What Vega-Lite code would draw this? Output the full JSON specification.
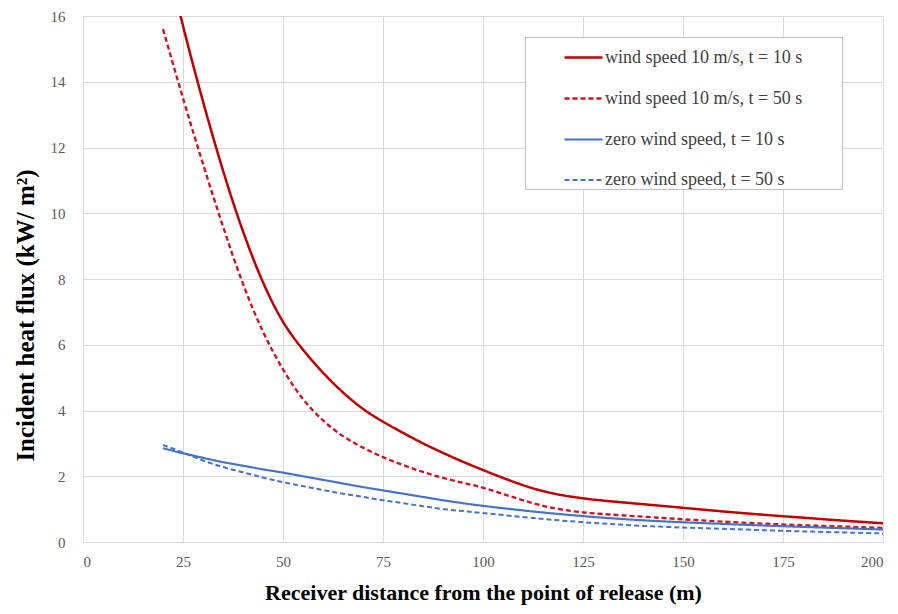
{
  "$schema": "https://vega.github.io/schema/vega-lite/v6.json",
  "width": 800,
  "height": 526,
  "autosize": {"type": "none"},
  "padding": {"left": 83, "top": 16, "right": 15, "bottom": 72},
  "background": "white",
  "data": {"values": [
    {"x": 20, "y": 18.2, "series": "wind speed 10 m/s, t = 10 s"},
    {"x": 25, "y": 15.7, "series": "wind speed 10 m/s, t = 10 s"},
    {"x": 30, "y": 13.4, "series": "wind speed 10 m/s, t = 10 s"},
    {"x": 35, "y": 11.3, "series": "wind speed 10 m/s, t = 10 s"},
    {"x": 40, "y": 9.45, "series": "wind speed 10 m/s, t = 10 s"},
    {"x": 45, "y": 7.9, "series": "wind speed 10 m/s, t = 10 s"},
    {"x": 50, "y": 6.7, "series": "wind speed 10 m/s, t = 10 s"},
    {"x": 55, "y": 5.85, "series": "wind speed 10 m/s, t = 10 s"},
    {"x": 60, "y": 5.15, "series": "wind speed 10 m/s, t = 10 s"},
    {"x": 65, "y": 4.55, "series": "wind speed 10 m/s, t = 10 s"},
    {"x": 70, "y": 4.05, "series": "wind speed 10 m/s, t = 10 s"},
    {"x": 75, "y": 3.66, "series": "wind speed 10 m/s, t = 10 s"},
    {"x": 80, "y": 3.32, "series": "wind speed 10 m/s, t = 10 s"},
    {"x": 85, "y": 3.0, "series": "wind speed 10 m/s, t = 10 s"},
    {"x": 90, "y": 2.71, "series": "wind speed 10 m/s, t = 10 s"},
    {"x": 95, "y": 2.44, "series": "wind speed 10 m/s, t = 10 s"},
    {"x": 100, "y": 2.19, "series": "wind speed 10 m/s, t = 10 s"},
    {"x": 105, "y": 1.95, "series": "wind speed 10 m/s, t = 10 s"},
    {"x": 110, "y": 1.73, "series": "wind speed 10 m/s, t = 10 s"},
    {"x": 115, "y": 1.55, "series": "wind speed 10 m/s, t = 10 s"},
    {"x": 120, "y": 1.42, "series": "wind speed 10 m/s, t = 10 s"},
    {"x": 125, "y": 1.33, "series": "wind speed 10 m/s, t = 10 s"},
    {"x": 130, "y": 1.26, "series": "wind speed 10 m/s, t = 10 s"},
    {"x": 140, "y": 1.15, "series": "wind speed 10 m/s, t = 10 s"},
    {"x": 150, "y": 1.04, "series": "wind speed 10 m/s, t = 10 s"},
    {"x": 160, "y": 0.93, "series": "wind speed 10 m/s, t = 10 s"},
    {"x": 170, "y": 0.83, "series": "wind speed 10 m/s, t = 10 s"},
    {"x": 180, "y": 0.74, "series": "wind speed 10 m/s, t = 10 s"},
    {"x": 190, "y": 0.65, "series": "wind speed 10 m/s, t = 10 s"},
    {"x": 200, "y": 0.57, "series": "wind speed 10 m/s, t = 10 s"},

    {"x": 20, "y": 15.6, "series": "wind speed 10 m/s, t = 50 s"},
    {"x": 25, "y": 13.5, "series": "wind speed 10 m/s, t = 50 s"},
    {"x": 30, "y": 11.5, "series": "wind speed 10 m/s, t = 50 s"},
    {"x": 35, "y": 9.6, "series": "wind speed 10 m/s, t = 50 s"},
    {"x": 40, "y": 7.85, "series": "wind speed 10 m/s, t = 50 s"},
    {"x": 45, "y": 6.4, "series": "wind speed 10 m/s, t = 50 s"},
    {"x": 50, "y": 5.25, "series": "wind speed 10 m/s, t = 50 s"},
    {"x": 55, "y": 4.35, "series": "wind speed 10 m/s, t = 50 s"},
    {"x": 60, "y": 3.7, "series": "wind speed 10 m/s, t = 50 s"},
    {"x": 65, "y": 3.22, "series": "wind speed 10 m/s, t = 50 s"},
    {"x": 70, "y": 2.87, "series": "wind speed 10 m/s, t = 50 s"},
    {"x": 75, "y": 2.58, "series": "wind speed 10 m/s, t = 50 s"},
    {"x": 80, "y": 2.34, "series": "wind speed 10 m/s, t = 50 s"},
    {"x": 85, "y": 2.13, "series": "wind speed 10 m/s, t = 50 s"},
    {"x": 90, "y": 1.95, "series": "wind speed 10 m/s, t = 50 s"},
    {"x": 95, "y": 1.8, "series": "wind speed 10 m/s, t = 50 s"},
    {"x": 100, "y": 1.65, "series": "wind speed 10 m/s, t = 50 s"},
    {"x": 105, "y": 1.46, "series": "wind speed 10 m/s, t = 50 s"},
    {"x": 110, "y": 1.27, "series": "wind speed 10 m/s, t = 50 s"},
    {"x": 115, "y": 1.1, "series": "wind speed 10 m/s, t = 50 s"},
    {"x": 120, "y": 0.98, "series": "wind speed 10 m/s, t = 50 s"},
    {"x": 125, "y": 0.9, "series": "wind speed 10 m/s, t = 50 s"},
    {"x": 130, "y": 0.85, "series": "wind speed 10 m/s, t = 50 s"},
    {"x": 140, "y": 0.77, "series": "wind speed 10 m/s, t = 50 s"},
    {"x": 150, "y": 0.69, "series": "wind speed 10 m/s, t = 50 s"},
    {"x": 160, "y": 0.62, "series": "wind speed 10 m/s, t = 50 s"},
    {"x": 170, "y": 0.56, "series": "wind speed 10 m/s, t = 50 s"},
    {"x": 180, "y": 0.51, "series": "wind speed 10 m/s, t = 50 s"},
    {"x": 190, "y": 0.47, "series": "wind speed 10 m/s, t = 50 s"},
    {"x": 200, "y": 0.43, "series": "wind speed 10 m/s, t = 50 s"},

    {"x": 20, "y": 2.85, "series": "zero wind speed, t = 10 s"},
    {"x": 25, "y": 2.7, "series": "zero wind speed, t = 10 s"},
    {"x": 30, "y": 2.56, "series": "zero wind speed, t = 10 s"},
    {"x": 35, "y": 2.43, "series": "zero wind speed, t = 10 s"},
    {"x": 40, "y": 2.32, "series": "zero wind speed, t = 10 s"},
    {"x": 45, "y": 2.21, "series": "zero wind speed, t = 10 s"},
    {"x": 50, "y": 2.11, "series": "zero wind speed, t = 10 s"},
    {"x": 55, "y": 2.0, "series": "zero wind speed, t = 10 s"},
    {"x": 60, "y": 1.89, "series": "zero wind speed, t = 10 s"},
    {"x": 65, "y": 1.78, "series": "zero wind speed, t = 10 s"},
    {"x": 70, "y": 1.67, "series": "zero wind speed, t = 10 s"},
    {"x": 75, "y": 1.57, "series": "zero wind speed, t = 10 s"},
    {"x": 80, "y": 1.47, "series": "zero wind speed, t = 10 s"},
    {"x": 85, "y": 1.37, "series": "zero wind speed, t = 10 s"},
    {"x": 90, "y": 1.27, "series": "zero wind speed, t = 10 s"},
    {"x": 95, "y": 1.18, "series": "zero wind speed, t = 10 s"},
    {"x": 100, "y": 1.1, "series": "zero wind speed, t = 10 s"},
    {"x": 110, "y": 0.96, "series": "zero wind speed, t = 10 s"},
    {"x": 120, "y": 0.84, "series": "zero wind speed, t = 10 s"},
    {"x": 130, "y": 0.74, "series": "zero wind speed, t = 10 s"},
    {"x": 140, "y": 0.66, "series": "zero wind speed, t = 10 s"},
    {"x": 150, "y": 0.6, "series": "zero wind speed, t = 10 s"},
    {"x": 160, "y": 0.55, "series": "zero wind speed, t = 10 s"},
    {"x": 175, "y": 0.48, "series": "zero wind speed, t = 10 s"},
    {"x": 190, "y": 0.42, "series": "zero wind speed, t = 10 s"},
    {"x": 200, "y": 0.38, "series": "zero wind speed, t = 10 s"},

    {"x": 20, "y": 2.95, "series": "zero wind speed, t = 50 s"},
    {"x": 25, "y": 2.72, "series": "zero wind speed, t = 50 s"},
    {"x": 30, "y": 2.48, "series": "zero wind speed, t = 50 s"},
    {"x": 35, "y": 2.28, "series": "zero wind speed, t = 50 s"},
    {"x": 40, "y": 2.12, "series": "zero wind speed, t = 50 s"},
    {"x": 45, "y": 1.96, "series": "zero wind speed, t = 50 s"},
    {"x": 50, "y": 1.82, "series": "zero wind speed, t = 50 s"},
    {"x": 55, "y": 1.7, "series": "zero wind speed, t = 50 s"},
    {"x": 60, "y": 1.58, "series": "zero wind speed, t = 50 s"},
    {"x": 65, "y": 1.47, "series": "zero wind speed, t = 50 s"},
    {"x": 70, "y": 1.37, "series": "zero wind speed, t = 50 s"},
    {"x": 75, "y": 1.27, "series": "zero wind speed, t = 50 s"},
    {"x": 80, "y": 1.18, "series": "zero wind speed, t = 50 s"},
    {"x": 85, "y": 1.09, "series": "zero wind speed, t = 50 s"},
    {"x": 90, "y": 1.0, "series": "zero wind speed, t = 50 s"},
    {"x": 95, "y": 0.94, "series": "zero wind speed, t = 50 s"},
    {"x": 100, "y": 0.88, "series": "zero wind speed, t = 50 s"},
    {"x": 110, "y": 0.76, "series": "zero wind speed, t = 50 s"},
    {"x": 120, "y": 0.65, "series": "zero wind speed, t = 50 s"},
    {"x": 130, "y": 0.56, "series": "zero wind speed, t = 50 s"},
    {"x": 140, "y": 0.49, "series": "zero wind speed, t = 50 s"},
    {"x": 150, "y": 0.44, "series": "zero wind speed, t = 50 s"},
    {"x": 160, "y": 0.4, "series": "zero wind speed, t = 50 s"},
    {"x": 175, "y": 0.34, "series": "zero wind speed, t = 50 s"},
    {"x": 190, "y": 0.29, "series": "zero wind speed, t = 50 s"},
    {"x": 200, "y": 0.26, "series": "zero wind speed, t = 50 s"}
  ]},
  "mark": {"type": "line", "interpolate": "natural", "clip": true},
  "encoding": {
    "x": {
      "field": "x", "type": "quantitative",
      "scale": {"domain": [0, 200], "nice": false},
      "axis": {
        "title": "Receiver distance from the point of release (m)",
        "values": [0, 25, 50, 75, 100, 125, 150, 175, 200]
      }
    },
    "y": {
      "field": "y", "type": "quantitative",
      "scale": {"domain": [0, 16], "nice": false},
      "axis": {
        "title": "Incident heat flux (kW/ m²)",
        "values": [0, 2, 4, 6, 8, 10, 12, 14, 16]
      }
    },
    "color": {
      "field": "series", "type": "nominal",
      "scale": {
        "domain": ["wind speed 10 m/s, t = 10 s", "wind speed 10 m/s, t = 50 s", "zero wind speed, t = 10 s", "zero wind speed, t = 50 s"],
        "range": ["#C00000", "#D01020", "#4472C4", "#4472C4"]
      },
      "legend": {
        "title": null,
        "orient": "none",
        "legendX": 442,
        "legendY": 21,
        "padding": 0,
        "symbolType": "stroke",
        "symbolSize": 1444,
        "symbolOffset": 38,
        "labelOffset": 1,
        "rowPadding": 11,
        "labelFont": "Times New Roman, Liberation Serif, serif",
        "labelFontSize": 18,
        "labelColor": "#404040",
        "labelLimit": 400,
        "labelExpr": "datum.label + '\u2003\u2003\u2009\u200b'",
        "fillColor": "white",
        "strokeColor": "#BFBFBF"
      }
    },
    "strokeDash": {
      "field": "series", "type": "nominal",
      "scale": {
        "domain": ["wind speed 10 m/s, t = 10 s", "wind speed 10 m/s, t = 50 s", "zero wind speed, t = 10 s", "zero wind speed, t = 50 s"],
        "range": [[1, 0], [5, 3], [1, 0], [5, 3]]
      }
    },
    "strokeWidth": {
      "field": "series", "type": "nominal",
      "scale": {
        "domain": ["wind speed 10 m/s, t = 10 s", "wind speed 10 m/s, t = 50 s", "zero wind speed, t = 10 s", "zero wind speed, t = 50 s"],
        "range": [2.5, 2, 2, 1.75]
      }
    }
  },
  "config": {
    "font": "Times New Roman, Liberation Serif, serif",
    "view": {"stroke": null},
    "axis": {
      "gridColor": "#D9D9D9",
      "gridWidth": 1,
      "ticks": false,
      "labelFont": "Times New Roman, Liberation Serif, serif",
      "labelFontSize": 15,
      "labelColor": "#595959",
      "titleFont": "Times New Roman, Liberation Serif, serif",
      "titleFontWeight": "bold",
      "titleColor": "#000000"
    },
    "axisX": {
      "domain": true,
      "domainColor": "#D9D9D9",
      "labelPadding": 12,
      "titlePadding": 13,
      "titleFontSize": 22
    },
    "axisY": {
      "domain": false,
      "labelPadding": 18,
      "titlePadding": 12,
      "titleFontSize": 25,
      "titleY": 299
    }
  }
}
